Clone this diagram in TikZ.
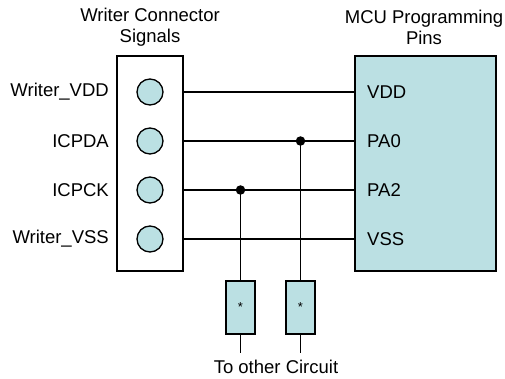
\documentclass[tikz,border=0pt]{standalone}
\usepackage{fontspec}
\setmainfont{Liberation Sans}
\definecolor{pinfill}{RGB}{187,224,227}
\begin{document}
\begin{tikzpicture}[x=1pt,y=-1pt,
  lbl/.style={font=\fontsize{18.5}{22}\selectfont, inner sep=0pt},
  boxst/.style={draw=black, line width=1.3pt, inner sep=0pt},
  pinhole/.style={circle, draw=black, fill=pinfill, line width=1.3pt, minimum size=26pt, inner sep=0pt},
  resist/.style={draw=black, fill=pinfill, line width=1.3pt, minimum width=29pt, minimum height=53pt, inner sep=0pt, font=\fontsize{13}{14}\selectfont},
  wire/.style={line width=1.3pt},
  dot/.style={circle, fill=black, minimum size=9.5pt, inner sep=0pt}]
\useasboundingbox (0,0) rectangle (505,379);
% connector block
\node[boxst, minimum width=66pt, minimum height=215pt] (conn) at (150,163.5) {};
% MCU block
\node[boxst, fill=pinfill, minimum width=141pt, minimum height=215pt] (mcu) at (425.5,163.5) {};
% titles
\node[lbl, align=center] (t1) at (150,27) {Writer Connector\\[-1pt]Signals};
\node[lbl, align=center] (t2) at (424,27) {MCU Programming\\[-1pt]Pins};
% pins
\node[pinhole] (p1) at (150,92) {};
\node[pinhole] (p2) at (150,141) {};
\node[pinhole] (p3) at (150,190) {};
\node[pinhole] (p4) at (150,239) {};
% left labels
\node[lbl, anchor=east] (l1) at (109,92) {Writer\_VDD};
\node[lbl, anchor=east] (l2) at (109,141) {ICPDA};
\node[lbl, anchor=east] (l3) at (109,190) {ICPCK};
\node[lbl, anchor=east] (l4) at (109,239) {Writer\_VSS};
% MCU pin labels
\node[lbl, anchor=west] (m1) at (367,92) {VDD};
\node[lbl, anchor=west] (m2) at (367,141) {PA0};
\node[lbl, anchor=west] (m3) at (367,190) {PA2};
\node[lbl, anchor=west] (m4) at (367,239) {VSS};
% wires
\draw[wire] (conn.east |- p1) -- (mcu.west |- p1);
\draw[wire] (conn.east |- p2) -- (mcu.west |- p2);
\draw[wire] (conn.east |- p3) -- (mcu.west |- p3);
\draw[wire] (conn.east |- p4) -- (mcu.west |- p4);
% resistors
\node[resist] (r1) at (240.5,307.5) {*};
\node[resist] (r2) at (300.5,307.5) {*};
\node[dot] (j1) at (r2 |- p2) {};
\node[dot] (j2) at (r1 |- p3) {};
\draw[wire] (j1.center) -- (r2.north);
\draw[wire] (j2.center) -- (r1.north);
\coordinate (e1) at (240.5,353);
\coordinate (e2) at (300.5,353);
\draw[wire] (r1.south) -- (e1);
\draw[wire] (r2.south) -- (e2);
\node[lbl] (oc) at (276,367) {To other Circuit};
\end{tikzpicture}
\end{document}
